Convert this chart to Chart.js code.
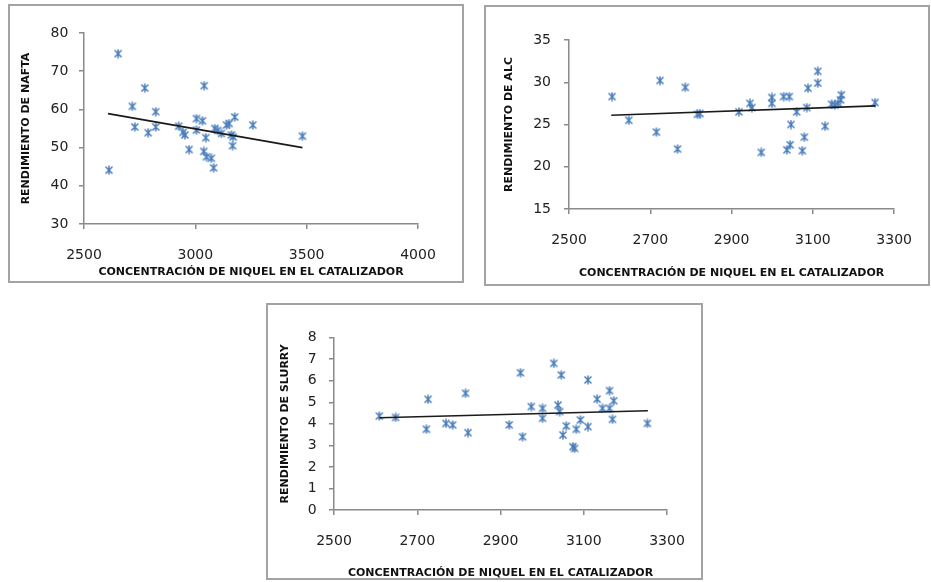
<!DOCTYPE html>
<html lang="es">
<head>
<meta charset="UTF-8">
<title>Rendimientos vs concentración de níquel</title>
<script src="https://cdn.jsdelivr.net/npm/chart.js"></script>
<style>
  html, body { margin: 0; padding: 0; background: #fff; }
  body { width: 931px; height: 582px; position: relative; overflow: hidden; }
  canvas { position: absolute; }
  .box { position: absolute; box-sizing: border-box; border: 2px solid #a3a3a3; }
</style>
</head>
<body>

  <!-- Nafta -->
  <canvas id="naftaChart" width="456" height="279" style="left:8px;top:4px"></canvas>
  <div class="box" style="left:8px;top:4px;width:456px;height:279px"></div>

  <!-- ALC -->
  <canvas id="alcChart" width="446" height="281" style="left:484px;top:5px"></canvas>
  <div class="box" style="left:484px;top:5px;width:446px;height:281px"></div>

  <!-- Slurry -->
  <canvas id="slurryChart" width="437" height="277" style="left:266px;top:303px"></canvas>
  <div class="box" style="left:266px;top:303px;width:437px;height:277px"></div>

<script>
// ---- data ----
const xTitle = 'CONCENTRACIÓN DE NIQUEL EN EL CATALIZADOR';

const naftaX = [2612, 2653, 2717, 2728, 2773, 2788, 2822, 2822, 2925, 2945, 2953, 2972, 3005, 3005, 3032, 3040,
                3038, 3047, 3050, 3072, 3082, 3087, 3100, 3117, 3140, 3152, 3162, 3167, 3170, 3177, 3258, 3481];
const naftaY = [44.1, 74.6, 60.8, 55.4, 65.6, 53.9, 59.4, 55.4, 55.6, 54.0, 53.3, 49.5, 57.6, 54.6, 57.0, 66.2,
                49.0, 52.6, 47.6, 47.2, 44.7, 55.0, 54.5, 53.7, 55.9, 56.3, 53.3, 50.5, 52.8, 58.0, 55.9, 53.0];
const naftaTrendX = [2608, 3481];
const naftaTrendY = [58.9, 50.0];
const naftaXTicks = [2500, 3000, 3500, 4000];
const naftaYTicks = [30, 40, 50, 60, 70, 80];

const alcX = [2606, 2647, 2715, 2724, 2767, 2786, 2816, 2822, 2918, 2945, 2950, 2973, 2999, 2999, 3028, 3042, 3036,
              3044, 3046, 3060, 3074, 3079, 3085, 3088, 3112, 3112, 3130, 3146, 3154, 3162, 3168, 3170, 3253];
const alcY = [28.3, 25.5, 24.1, 30.2, 22.1, 29.4, 26.2, 26.3, 26.5, 27.5, 27.0, 21.7, 28.2, 27.5, 28.3, 28.3, 22.0,
              22.6, 25.0, 26.5, 21.9, 23.5, 27.0, 29.3, 31.3, 29.9, 24.8, 27.4, 27.3, 27.5, 27.9, 28.5, 27.6];
const alcTrendX = [2604, 3254];
const alcTrendY = [26.1, 27.2];
const alcXTicks = [2500, 2700, 2900, 3100, 3300];
const alcYTicks = [15, 20, 25, 30, 35];

const slurryX = [2609, 2648, 2722, 2726, 2769, 2785, 2816, 2822, 2921, 2948, 2953, 2974, 3001, 3001, 3028, 3038, 3042,
                 3046, 3050, 3058, 3074, 3078, 3082, 3092, 3110, 3110, 3132, 3145, 3162, 3162, 3172, 3169, 3253];
const slurryY = [4.36, 4.30, 3.75, 5.14, 4.02, 3.95, 5.42, 3.59, 3.95, 6.37, 3.40, 4.80, 4.72, 4.26, 6.81, 4.87, 4.57,
                 6.27, 3.48, 3.90, 2.94, 2.86, 3.75, 4.18, 6.04, 3.87, 5.15, 4.72, 4.72, 5.54, 5.07, 4.21, 4.02];
const slurryTrendX = [2609, 3254];
const slurryTrendY = [4.28, 4.61];
const slurryXTicks = [2500, 2700, 2900, 3100, 3300];
const slurryYTicks = [0, 1, 2, 3, 4, 5, 6, 7, 8];

// ---- styling ----
const markerColor = '#4a7ebb';
const axisColor = '#8a8a8a';
const tickFont = { family: 'DejaVu Sans', size: 14 };
const titleFont = { family: 'DejaVu Sans', size: 11, weight: 'bold' };

// Excel-like "star" marker: an X crossed by a vertical bar
function starMarker() {
  const c = document.createElement('canvas');
  c.width = 10; c.height = 10;
  const g = c.getContext('2d');
  g.strokeStyle = markerColor;
  g.lineWidth = 1.5;
  g.beginPath();
  g.moveTo(1.5, 1.5); g.lineTo(8.5, 8.5);
  g.moveTo(8.5, 1.5); g.lineTo(1.5, 8.5);
  g.moveTo(5, 0.5); g.lineTo(5, 9.5);
  g.stroke();
  return c;
}
const marker = starMarker();

const toPoints = (xs, ys) => xs.map((x, i) => ({ x: x, y: ys[i] }));
const plain = v => String(v);   // no thousands separator

function makeChart(id, xs, ys, tx, ty, xTicks, yTicks, yTitle, geo) {
  const ctx = document.getElementById(id).getContext('2d');
  return new Chart(ctx, {
    type: 'scatter',
    data: {
      datasets: [
        {
          // trendline, first so it is drawn on top
          data: toPoints(tx, ty),
          showLine: true,
          borderColor: '#1a1a1a',
          borderWidth: 1.6,
          pointRadius: 0,
          fill: false
        },
        {
          data: toPoints(xs, ys),
          pointStyle: marker,
          pointRadius: 5
        }
      ]
    },
    options: {
      responsive: false,
      animation: false,
      events: [],
      layout: { padding: { top: geo.top, right: geo.right, left: 0, bottom: 0 } },
      plugins: { legend: { display: false }, tooltip: { enabled: false } },
      scales: {
        x: {
          type: 'linear',
          min: xTicks[0],
          max: xTicks[xTicks.length - 1],
          afterFit: s => { s.height = geo.xH; },
          ticks: { stepSize: xTicks[1] - xTicks[0], callback: plain, font: tickFont, color: '#222', padding: geo.xTickPad, maxRotation: 0 },
          grid: { drawOnChartArea: false, drawTicks: true, tickLength: 5, color: axisColor, lineWidth: 1.5 },
          border: { display: true, color: axisColor, width: 1.5 },
          title: { display: true, text: xTitle, font: titleFont, color: '#111', padding: { top: 0, bottom: geo.xTitlePad } }
        },
        y: {
          type: 'linear',
          min: yTicks[0],
          max: yTicks[yTicks.length - 1],
          afterFit: s => { s.width = geo.left; },
          ticks: { stepSize: yTicks[1] - yTicks[0], callback: plain, font: tickFont, color: '#222', padding: geo.yTickPad },
          grid: { drawOnChartArea: false, drawTicks: true, tickLength: 5, color: axisColor, lineWidth: 1.5 },
          border: { display: true, color: axisColor, width: 1.5 },
          title: { display: true, text: yTitle, font: titleFont, color: '#111', padding: { top: geo.yTitlePad, bottom: 0 } }
        }
      }
    }
  });
}

makeChart('naftaChart', naftaX, naftaY, naftaTrendX, naftaTrendY, naftaXTicks, naftaYTicks,
  'RENDIMIENTO DE NAFTA',
  { left: 76, top: 29, right: 46, xH: 59, xTickPad: 17.5, yTickPad: 10.7, xTitlePad: 4.4, yTitlePad: 12 });

makeChart('alcChart', alcX, alcY, alcTrendX, alcTrendY, alcXTicks, alcYTicks,
  'RENDIMIENTO DE ALC',
  { left: 85, top: 35, right: 34, xH: 77, xTickPad: 18, yTickPad: 13, xTitlePad: 6.4, yTitlePad: 18.4 });

makeChart('slurryChart', slurryX, slurryY, slurryTrendX, slurryTrendY, slurryXTicks, slurryYTicks,
  'RENDIMIENTO DE SLURRY',
  { left: 68, top: 34.7, right: 36, xH: 70, xTickPad: 17.8, yTickPad: 12.3, xTitlePad: 0.7, yTitlePad: 12.4 });
</script>

</body>
</html>
